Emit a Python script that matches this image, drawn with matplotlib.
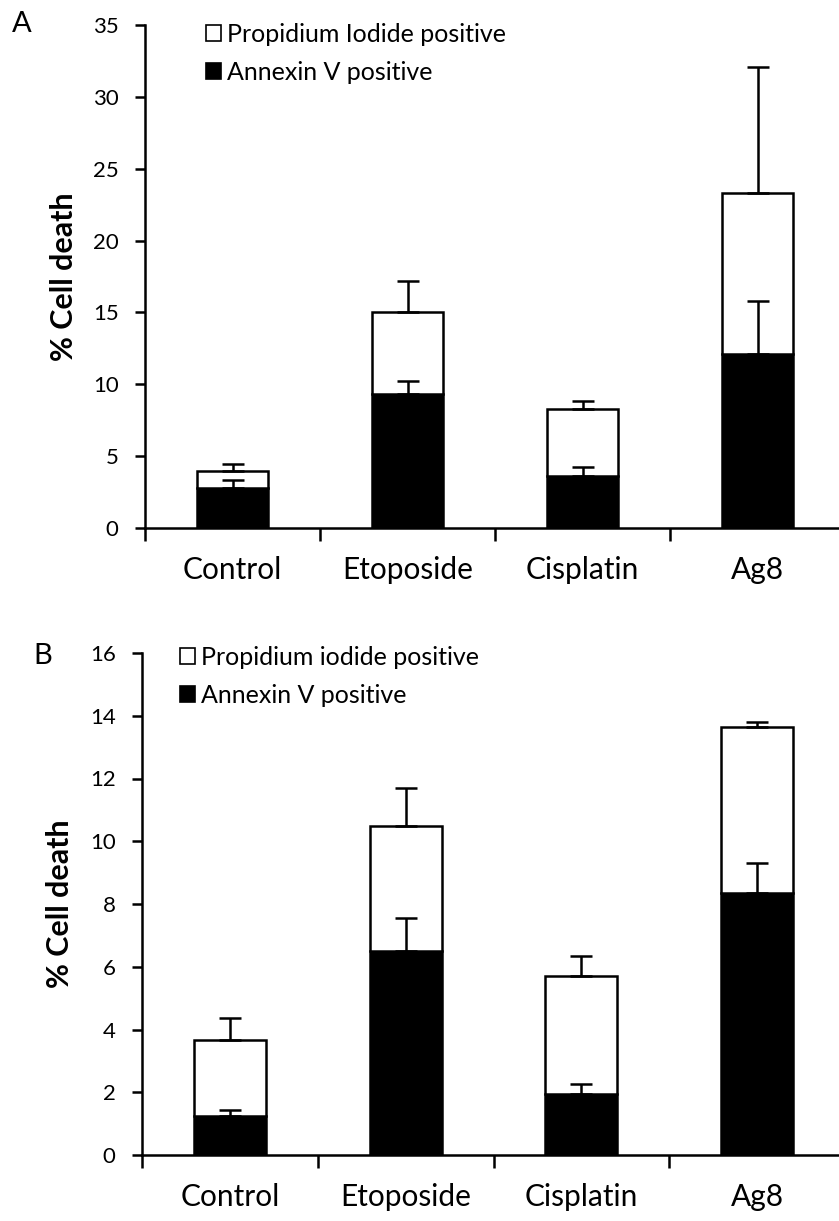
import matplotlib
matplotlib.use("Agg")
import matplotlib.pyplot as plt
from matplotlib.patches import Patch
import numpy as np

plt.rcParams['font.family'] = ['Lato', 'DejaVu Sans']

categories = ["Control", "Etoposide", "Cisplatin", "Ag8"]

# Panel A
a_annexin = [2.8, 9.3, 3.6, 12.1]
a_annexin_err = [0.55, 0.9, 0.65, 3.7]
a_pi = [1.16, 5.75, 4.7, 11.2]
a_total_err = [0.5, 2.15, 0.55, 8.8]
a_yticks = [0, 5, 10, 15, 20, 25, 30, 35]

# Panel B
b_annexin = [1.23, 6.5, 1.95, 8.35]
b_annexin_err = [0.22, 1.05, 0.3, 0.95]
b_pi = [2.43, 4.0, 3.75, 5.3]
b_total_err = [0.7, 1.2, 0.65, 0.15]
b_yticks = [0, 2, 4, 6, 8, 10, 12, 14, 16]

fig = plt.figure(figsize=(8.39, 12.21), dpi=100)

def panel(rect, annexin, annexin_err, pi, total_err, yticks, pi_label, letter, letter_xy, leg_anchor):
    ax = fig.add_axes(rect)
    x = np.arange(len(categories))
    annexin = np.array(annexin)
    pi = np.array(pi)
    total = annexin + pi
    w = 0.41
    ax.bar(x, annexin, w, color='black', edgecolor='black', linewidth=1.8, zorder=2)
    ax.bar(x, pi, w, bottom=annexin, color='white', edgecolor='black', linewidth=1.8, zorder=2)
    ax.errorbar(x, annexin, yerr=[np.zeros(len(x)), annexin_err], fmt='none',
                ecolor='black', elinewidth=1.8, capsize=8, capthick=1.8, zorder=3)
    ax.errorbar(x, total, yerr=[np.zeros(len(x)), total_err], fmt='none',
                ecolor='black', elinewidth=1.8, capsize=8, capthick=1.8, zorder=3)
    ax.set_xlim(-0.5, len(categories) - 0.5)
    ax.set_ylim(yticks[0], yticks[-1])
    ax.set_yticks(yticks)
    ax.set_yticklabels([str(t) for t in yticks], fontsize=16)
    ax.set_xticks(x)
    ax.set_xticklabels(categories, fontsize=21.5)
    ax.tick_params(axis='x', which='major', length=0, pad=20)
    ax.set_xticks(np.arange(len(categories) + 1) - 0.5, minor=True)
    ax.tick_params(axis='x', which='minor', length=9, width=1.8, direction='out')
    ax.tick_params(axis='y', length=7, width=1.8, direction='out', pad=12)
    for s in ['top', 'right']:
        ax.spines[s].set_visible(False)
    for s in ['left', 'bottom']:
        ax.spines[s].set_linewidth(1.8)
    ax.spines['bottom'].set_zorder(4)
    ax.set_ylabel("% Cell death", fontsize=22, fontweight='bold', labelpad=11)
    handles = [Patch(facecolor='white', edgecolor='black', linewidth=1.2, label=pi_label),
               Patch(facecolor='black', edgecolor='black', linewidth=1.2, label="Annexin V positive")]
    ax.legend(handles=handles, loc='upper left', bbox_to_anchor=leg_anchor,
              bbox_transform=fig.transFigure, frameon=False, fontsize=18,
              handlelength=0.6, handleheight=0.6, handletextpad=0.25,
              labelspacing=0.6, borderaxespad=0, borderpad=0)
    fig.text(letter_xy[0], letter_xy[1], letter, fontsize=21, ha='left', va='center')
    return ax

panel([145/839, 1 - 528/1221, 700/839, 503/1221], a_annexin, a_annexin_err, a_pi,
      a_total_err, a_yticks, "Propidium Iodide positive", "A", (12/839, 1 - 24/1221),
      (206/839, 1 - 23/1221))
panel([142/839, 1 - 1155/1221, 703/839, 502/1221], b_annexin, b_annexin_err, b_pi,
      b_total_err, b_yticks, "Propidium iodide positive", "B", (33/839, 1 - 656/1221),
      (180/839, 1 - 646/1221))

fig.savefig("out.png", dpi=100)
